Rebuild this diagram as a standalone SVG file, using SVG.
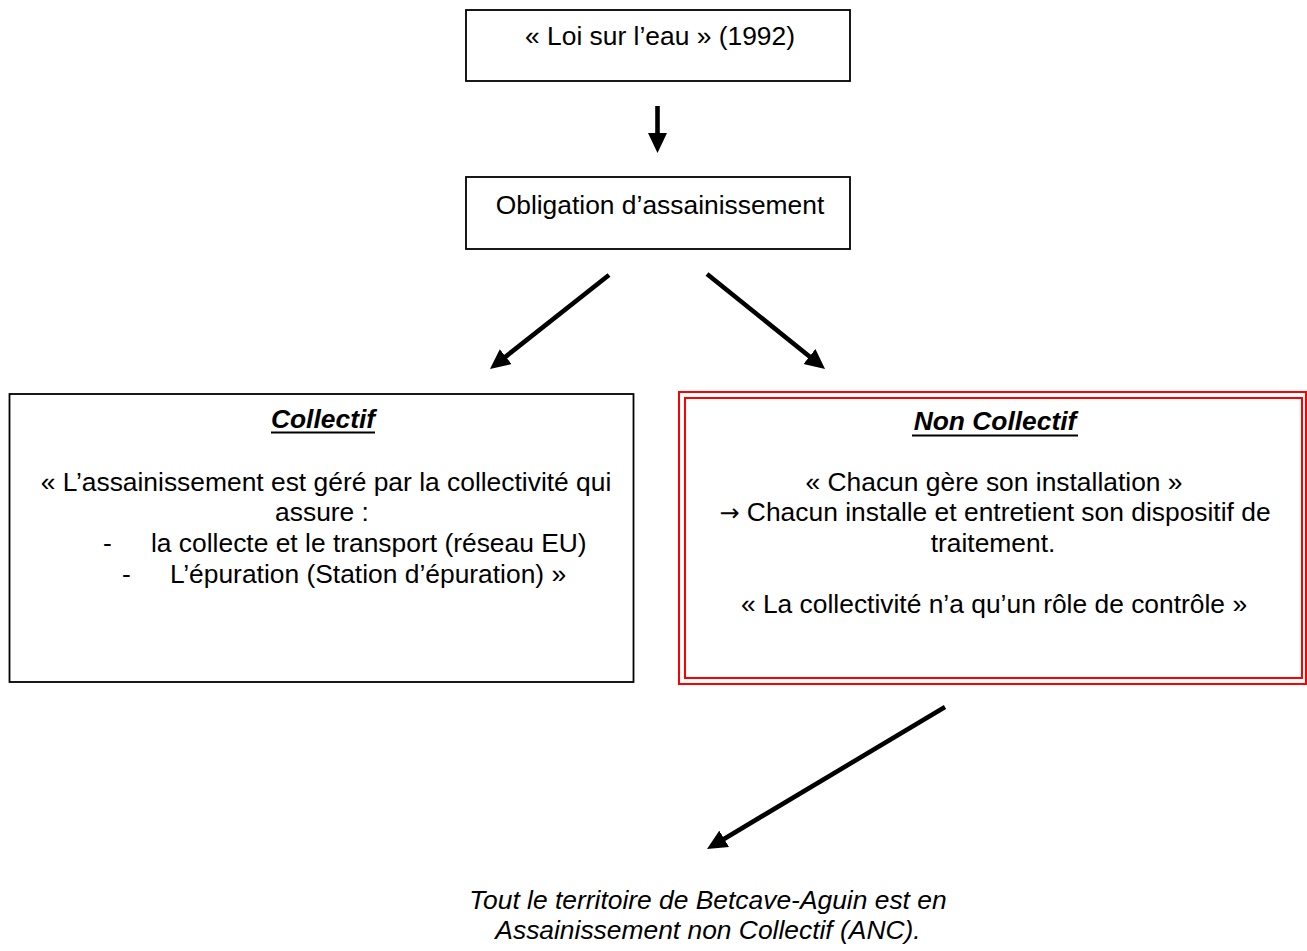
<svg xmlns="http://www.w3.org/2000/svg" width="1307" height="951" viewBox="0 0 1307 951">
  <style>
    text { font-family: "Liberation Sans", Arial, sans-serif; font-size: 26.4px; fill: #000; }
    .c { text-anchor: middle; }
    .title { font-weight: bold; font-style: italic; text-anchor: middle; }
    .it { font-style: italic; text-anchor: middle; }
    .sym { font-family: "DejaVu Sans", sans-serif; font-size: 24px; }
    .box { fill: #fff; stroke: #000; stroke-width: 1.8; }
    .red { fill: none; stroke: #ff0000; stroke-width: 2; }
    .ul { stroke: #000; stroke-width: 2; }
    .conn { stroke: #000; stroke-width: 4.6; fill: none; marker-end: url(#ah); }
  </style>
  <defs>
    <marker id="ah" markerUnits="userSpaceOnUse" markerWidth="22" markerHeight="20" viewBox="0 0 22 20" refX="8" refY="10" orient="auto">
      <path d="M0,0.5 L20,10 L0,19.5 z" fill="#000"/>
    </marker>
  </defs>
  <rect width="1307" height="951" fill="#fff"/>

  <g id="connectors">
    <line class="conn" x1="657.5" y1="106" x2="657.5" y2="141"/>
    <line class="conn" x1="609" y1="275" x2="499.4" y2="361.6"/>
    <line class="conn" x1="707" y1="274" x2="815.7" y2="361.5"/>
    <line class="conn" x1="945" y1="707" x2="717.3" y2="842.9"/>
  </g>

  <g id="loi">
    <rect class="box" x="466" y="10" width="384" height="71"/>
    <text class="c" x="660" y="45">« Loi sur l’eau » (1992)</text>
  </g>

  <g id="obligation">
    <rect class="box" x="466" y="177" width="384" height="72"/>
    <text class="c" x="660" y="214">Obligation d’assainissement</text>
  </g>

  <g id="collectif">
    <rect class="box" x="9.5" y="394" width="624" height="288"/>
    <text class="title" x="323" y="428">Collectif</text>
    <line class="ul" x1="271" y1="432.5" x2="375" y2="432.5"/>
    <text class="c" x="326" y="491">« L’assainissement est géré par la collectivité qui</text>
    <text class="c" x="322" y="521">assure :</text>
    <text x="103" y="552">-</text>
    <text x="151" y="552">la collecte et le transport (réseau EU)</text>
    <text x="122" y="583">-</text>
    <text x="170" y="583">L’épuration (Station d’épuration) »</text>
  </g>

  <g id="non-collectif">
    <rect class="red" x="679" y="392" width="627" height="292"/>
    <rect class="red" x="685" y="398" width="617" height="280"/>
    <text class="title" x="995" y="430">Non Collectif</text>
    <line class="ul" x1="912" y1="435.5" x2="1078" y2="435.5"/>
    <text class="c" x="994" y="491">« Chacun gère son installation »</text>
    <text class="c" x="995" y="521"><tspan class="sym">→</tspan> Chacun installe et entretient son dispositif de</text>
    <text class="c" x="993" y="552">traitement.</text>
    <text class="c" x="994" y="613">« La collectivité n’a qu’un rôle de contrôle »</text>
  </g>

  <g id="conclusion">
    <text class="it" x="708" y="909">Tout le territoire de Betcave-Aguin est en</text>
    <text class="it" x="708" y="939">Assainissement non Collectif (ANC).</text>
  </g>
</svg>
